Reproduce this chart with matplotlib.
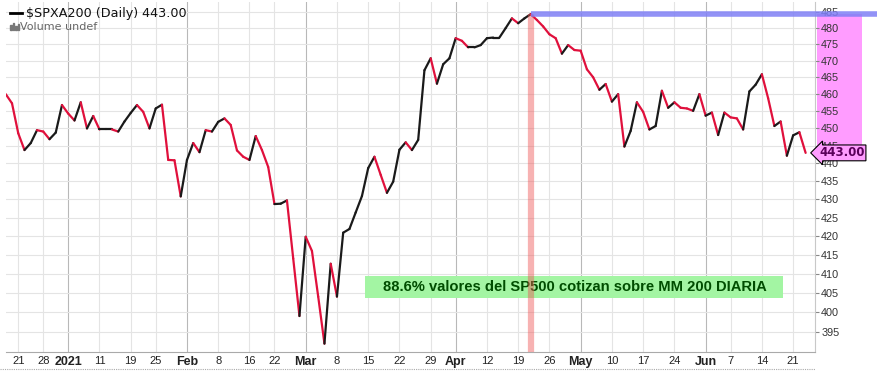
import numpy as np
import pandas as pd
import matplotlib
matplotlib.use('Agg')
import matplotlib.pyplot as plt
import matplotlib.transforms as mtransforms
from matplotlib.collections import LineCollection
from matplotlib.patches import Rectangle
from matplotlib.lines import Line2D
from matplotlib.ticker import FixedLocator, FixedFormatter, NullLocator

# $SPXA200 daily closes, one per trading day 2020-12-17 .. 2021-06-23
values = [460.0, 457.3, 448.6, 443.8, 445.8, 449.5, 449.1, 446.9, 448.8, 456.8,
          454.3, 452.3, 457.6, 450.0, 453.6, 449.7, 449.7, 449.7, 449.1, 452.0,
          454.5, 456.8, 454.8, 450.0, 455.8, 456.9, 441.0, 440.9, 430.8, 441.0,
          445.8, 443.2, 449.5, 449.1, 451.9, 452.9, 451.0, 443.7, 441.9, 441.0,
          447.8, 443.8, 439.0, 428.7, 428.8, 429.7, 414.0, 399.0, 419.8, 416.0,
          404.0, 392.0, 412.6, 404.0, 420.9, 421.9, 426.4, 430.9, 438.7, 441.9,
          436.8, 431.8, 434.9, 443.9, 446.0, 443.8, 446.7, 467.1, 470.7, 463.1,
          468.9, 470.7, 476.8, 476.0, 474.0, 474.0, 474.7, 476.8, 477.0, 477.0,
          479.9, 482.9, 481.4, 482.9, 484.2, 482.4, 480.4, 478.0, 476.8, 472.1,
          474.7, 473.2, 473.0, 467.4, 465.0, 461.3, 463.0, 457.8, 460.0, 444.8,
          449.3, 457.6, 454.8, 449.7, 450.7, 461.0, 456.0, 457.6, 456.0, 455.8,
          455.1, 460.0, 453.7, 454.6, 448.1, 454.6, 453.2, 452.9, 449.7, 460.8,
          462.8, 465.9, 458.8, 450.7, 452.0, 442.2, 448.0, 448.9, 443.0]

holidays = ['2020-12-25', '2021-01-01', '2021-01-18', '2021-02-15',
            '2021-04-02', '2021-05-31']

tick_dates = ['2020-12-21', '2020-12-28', '2021-01-04', '2021-01-11', '2021-01-19',
              '2021-01-25', '2021-02-01', '2021-02-08', '2021-02-16', '2021-02-22',
              '2021-03-01', '2021-03-08', '2021-03-15', '2021-03-22', '2021-03-29',
              '2021-04-05', '2021-04-12', '2021-04-19', '2021-04-26', '2021-05-03',
              '2021-05-10', '2021-05-17', '2021-05-24', '2021-06-01', '2021-06-07',
              '2021-06-14', '2021-06-21']
tick_labels = ['21', '28', '2021', '11', '19', '25', 'Feb', '8', '16', '22',
               'Mar', '8', '15', '22', '29', 'Apr', '12', '19', '26', 'May',
               '10', '17', '24', 'Jun', '7', '14', '21']
bold_labels = ['2021', 'Feb', 'Mar', 'Apr', 'May', 'Jun']

y_ticks = list(range(395, 490, 5))
last_value = 443.00
title = '$SPXA200 (Daily) 443.00'
note = '88.6% valores del SP500 cotizan sobre MM 200 DIARIA'

UP = '#1a1a1a'
DOWN = '#e0103c'

dates = pd.bdate_range('2020-12-17', '2021-06-23', freq='C', holidays=holidays)
x = np.arange(len(dates))
y = np.array(values)
pos = {d: i for i, d in enumerate(dates)}
tick_x = [pos[pd.Timestamp(d)] for d in tick_dates]

W, H = 877, 371
fig = plt.figure(figsize=(W / 100, H / 100), dpi=100)
ax = fig.add_axes([6 / W, 19 / H, 809 / W, 350 / H])

ax.set_yscale('log')
ax.set_xlim(0.04, 129.5)
ax.set_ylim(389.9, 488.0)

# grid
for tx, lab in zip(tick_x, tick_labels):
    c = '#b8b8b8' if lab in bold_labels else '#e4e4e4'
    ax.axvline(tx, color=c, lw=0.8, zorder=0.5)
for ty in y_ticks:
    ax.axhline(ty, color='#e4e4e4', lw=0.8, zorder=0.5)

# price line, black when up, red when down
pts = np.column_stack([x, y])
segs = np.stack([pts[:-1], pts[1:]], axis=1)
cols = [UP if b >= a else DOWN for a, b in zip(y[:-1], y[1:])]
lc = LineCollection(segs, colors=cols, linewidths=1.6, zorder=4,
                    capstyle='round', joinstyle='round')
ax.add_collection(lc)

# peak markers
pk = int(np.argmax(y))
ax.vlines(pk, 389.9, y[pk], color='#ee5555', alpha=0.45, lw=4.5, zorder=5)
ax.plot([pk, 139.4], [y[pk], y[pk]], color='#7f7ff5', alpha=0.85, lw=4,
        solid_capstyle='butt', clip_on=False, zorder=6)

# range box on the price axis
trans = mtransforms.blended_transform_factory(fig.transFigure, ax.transData)
ax.add_patch(Rectangle((817 / W, last_value), 45 / W, y[pk] - last_value,
                       transform=trans, facecolor='#ff9cff', edgecolor='none',
                       clip_on=False, zorder=0.2))
ax.text(819 / W, last_value, '443.00', transform=trans, ha='left', va='center',
        fontsize=8.5, fontweight='bold', family='DejaVu Sans', color='#5a005a',
        zorder=7, clip_on=False,
        bbox=dict(boxstyle='larrow,pad=0.12', fc='#ff9cff', ec='black', lw=0.8))

# note box
ax.add_patch(Rectangle((0.4436, 0.1543), 0.5167, 0.0628, transform=ax.transAxes,
                       facecolor='#a3f5a3', edgecolor='none', zorder=3))
ax.text(0.7026, 0.186, note, transform=ax.transAxes, ha='center', va='center',
        fontsize=10.6, fontweight='bold', family='Liberation Sans',
        color='#004d00', zorder=3.5)

# axes
ax.yaxis.tick_right()
ax.yaxis.set_major_locator(FixedLocator(y_ticks))
ax.yaxis.set_major_formatter(FixedFormatter([str(v) for v in y_ticks]))
ax.yaxis.set_minor_locator(NullLocator())
ax.tick_params(axis='y', length=3, width=0.8, color='#888888', pad=1.5,
               labelsize=7.8, labelcolor='#333333')
for t in ax.get_yticklabels():
    t.set_family('Liberation Sans')

ax.set_xticks(tick_x)
ax.set_xticklabels(tick_labels)
ax.tick_params(axis='x', length=0, pad=3, labelsize=8, labelcolor='#222222')
for t in ax.get_xticklabels():
    t.set_family('Liberation Sans')
    if t.get_text() in bold_labels:
        t.set_fontweight('bold')
        t.set_fontsize(9)

for s in ['top', 'left']:
    ax.spines[s].set_visible(False)
ax.spines['right'].set_color('#c8c8c8')
ax.spines['right'].set_linewidth(0.8)
ax.spines['bottom'].set_color('#aaaaaa')
ax.spines['bottom'].set_linestyle((0, (1, 1)))
ax.spines['bottom'].set_linewidth(0.8)
fig.add_artist(Line2D([0, 815 / W], [1 - 369 / H] * 2, color='#aaaaaa', lw=0.8,
                      linestyle=(0, (1, 1))))

# header
fig.add_artist(Line2D([10 / W, 22 / W], [1 - 13 / H] * 2, color='black', lw=2))
fig.text(26 / W, 1 - 13 / H, title, fontsize=9.2, family='DejaVu Sans',
         va='center', ha='left', color='#111111', parse_math=False)
for bx, bh in zip([10, 12.5, 15, 17.5], [5, 7, 4, 6]):
    fig.add_artist(Rectangle((bx / W, 1 - 30 / H), 1.6 / W, bh / H,
                             transform=fig.transFigure, color='#777777'))
fig.text(20 / W, 1 - 26.5 / H, 'Volume undef', fontsize=8, family='DejaVu Sans',
         va='center', ha='left', color='#666666')

fig.savefig('out.png', dpi=100)
